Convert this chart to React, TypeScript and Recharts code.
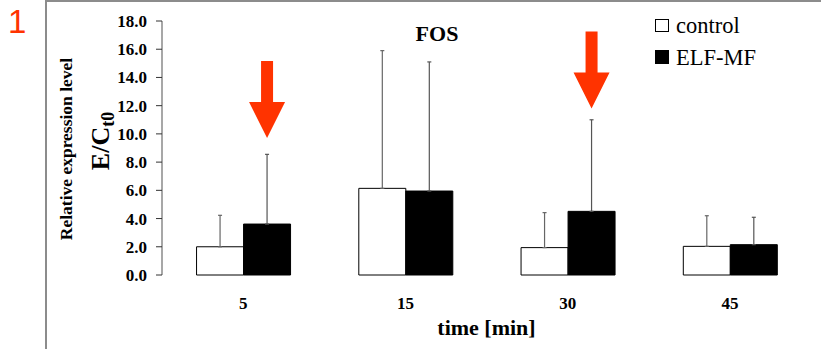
import React from 'react';
import { BarChart, Bar, XAxis, YAxis, ErrorBar, LabelList } from 'recharts';

const SERIF = '"Liberation Serif", "Times New Roman", serif';

// time points (min) and FOS relative expression
const times = ['5', '15', '30', '45'];
const controlMean = [2.0, 6.14, 1.94, 2.03];
const controlSd = [2.23, 9.76, 2.48, 2.17];
const elfMean = [3.61, 5.95, 4.51, 2.15];
const elfSd = [4.94, 9.15, 6.49, 1.94];
// red arrows over the ELF-MF bars (tip height in axis units), null = no arrow
const arrowTips = [9.7, null, 11.8, null];

const seriesNames = ['control', 'ELF-MF'];
const yTicks = [0, 2, 4, 6, 8, 10, 12, 14, 16, 18];
const edgeTicks = [0, 1, 2, 3, 4];

const data = times.map((t, i) => ({
    time: t,
    control: controlMean[i],
    controlErr: [0, controlSd[i]],
    elf: elfMean[i],
    elfErr: [0, elfSd[i]],
    arrow: arrowTips[i],
}));

const Arrow = (props: any) => {
    const { x, y, width, height, value, index } = props;
    if (value == null) return null;
    const base = y + height;
    const perUnit = height / elfMean[index];
    const tipY = base - value * perUnit;
    const cx = x + width / 2;
    const head = 36, half = 18, shaft = 6, total = 77;
    const d = `M${cx - shaft},${tipY - total} L${cx + shaft},${tipY - total} L${cx + shaft},${tipY - head} ` +
        `L${cx + half},${tipY - head} L${cx},${tipY} L${cx - half},${tipY - head} L${cx - shaft},${tipY - head} Z`;
    return <path d={d} fill="#ff3300" />;
};

const YLabel = () => (
    <g>
        <text transform="translate(72,149) rotate(-90)" textAnchor="middle" fontFamily={SERIF}
            fontWeight="bold" fontSize={17.5} fill="#000">Relative expression level</text>
        <text transform="translate(109,141) rotate(-90)" textAnchor="middle" fontFamily={SERIF}
            fontWeight="bold" fontSize={26} fill="#000">
            E/C<tspan fontSize={18} dy={5}>t0</tspan>
        </text>
    </g>
);

export default function App() {
    return (
        <div style={{ position: 'absolute', left: 0, top: 0, width: 821, height: 349, background: '#fff' }}>
            <BarChart width={821} height={349} data={data} margin={{ top: 21, right: 10, left: 0, bottom: 0 }}
                barCategoryGap="21.3%" barGap={0}>
                <XAxis xAxisId="edge" type="number" domain={[0, 4]} ticks={edgeTicks} height={0}
                    allowDataOverflow tickSize={5} tickFormatter={() => ''}
                    axisLine={{ stroke: '#8a8a8a', strokeWidth: 1.5 }} tickLine={{ stroke: '#8a8a8a', strokeWidth: 1.5 }} />
                <XAxis xAxisId="cat" dataKey="time" height={74} axisLine={false} tickLine={false} tickMargin={16}
                    tick={{ fontFamily: SERIF, fontWeight: 'bold', fontSize: 17, fill: '#000' }}
                    label={{ value: 'time [min]', position: 'insideBottom', offset: 14, fontFamily: SERIF, fontWeight: 'bold', fontSize: 22, fill: '#000' }} />
                <YAxis domain={[0, 18]} ticks={yTicks} width={162} interval={0}
                    tickFormatter={(v: number) => v.toFixed(1)} tickSize={6} tickMargin={9}
                    tick={{ fontFamily: SERIF, fontWeight: 'bold', fontSize: 17, fill: '#000' }}
                    axisLine={{ stroke: '#8a8a8a', strokeWidth: 1.5 }} tickLine={{ stroke: '#333' }}
                    label={<YLabel />} />
                <Bar xAxisId="cat" dataKey="control" name={seriesNames[0]} fill="#fff" stroke="#000" strokeWidth={1} isAnimationActive={false}>
                    <ErrorBar dataKey="controlErr" width={2} stroke="#666" strokeWidth={1.2} />
                </Bar>
                <Bar xAxisId="cat" dataKey="elf" name={seriesNames[1]} fill="#000" stroke="#000" strokeWidth={1} isAnimationActive={false}>
                    <ErrorBar dataKey="elfErr" width={2} stroke="#555" strokeWidth={1.2} />
                    <LabelList dataKey="arrow" content={<Arrow />} />
                </Bar>
            </BarChart>
            <svg width={821} height={349} style={{ position: 'absolute', left: 0, top: 0, pointerEvents: 'none' }}>
                <line x1={46} y1={0} x2={46} y2={349} stroke="#8c8c8c" strokeWidth={2} />
                <line x1={45} y1={1} x2={821} y2={1} stroke="#8c8c8c" strokeWidth={2} />
                <text x={8} y={33} fontFamily='"Liberation Sans", Arial, sans-serif' fontSize={33} fill="#ff3300">1</text>
                <text x={437} y={41} textAnchor="middle" fontFamily={SERIF} fontWeight="bold" fontSize={22} fill="#000">FOS</text>
                {/* legend */}
                <rect x={655.5} y={19.5} width={13} height={12} fill="#fff" stroke="#000" strokeWidth={1} />
                <text x={676} y={33} fontFamily={SERIF} fontSize={22.5} fill="#000">{seriesNames[0]}</text>
                <rect x={655} y={50} width={14} height={14} fill="#000" />
                <text x={676} y={65} fontFamily={SERIF} fontSize={22.5} fill="#000">{seriesNames[1]}</text>
            </svg>
        </div>
    );
}
